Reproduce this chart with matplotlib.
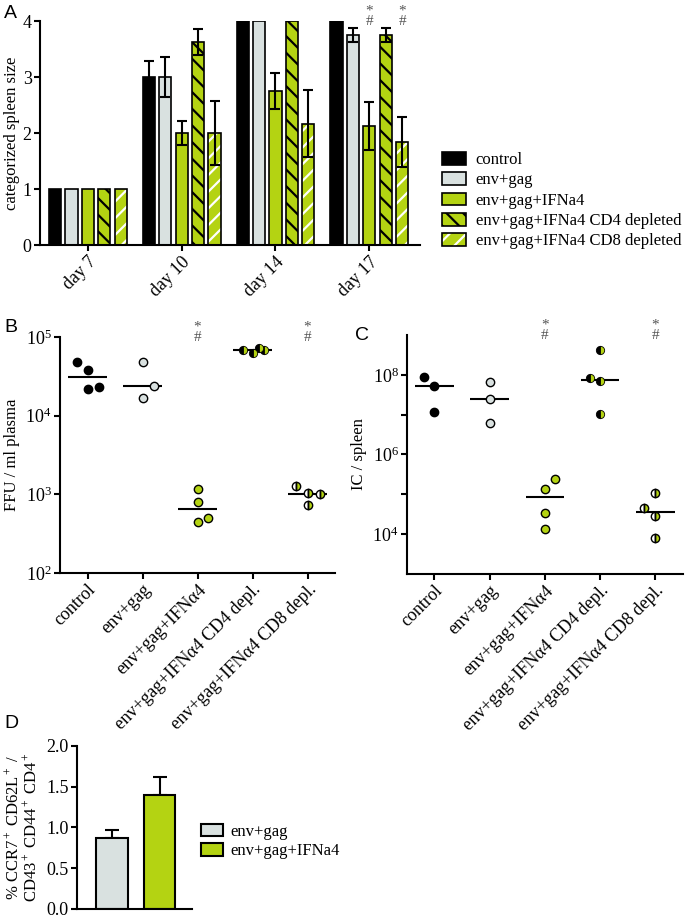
import matplotlib
matplotlib.use('Agg')
import matplotlib.pyplot as plt
import numpy as np
from matplotlib.patches import Patch
from matplotlib.legend_handler import HandlerTuple

plt.rcParams['font.family'] = ['Liberation Serif', 'DejaVu Serif']
plt.rcParams['mathtext.fontset'] = 'custom'
plt.rcParams['mathtext.rm'] = 'Liberation Serif'
plt.rcParams['mathtext.it'] = 'Liberation Serif:italic'
plt.rcParams['hatch.linewidth'] = 1.6
plt.rcParams['axes.linewidth'] = 1.5

BLACK = '#000000'
GREY = '#d9e1e0'
GREEN = '#b4d312'
MARK = '#555555'

# --- panel A: categorized spleen size
days = ['day 7', 'day 10', 'day 14', 'day 17']
groups_a = ['control', 'env+gag', 'env+gag+IFNa4',
            'env+gag+IFNa4 CD4 depleted', 'env+gag+IFNa4 CD8 depleted']
spleen_control = [1, 3.0, 4.0, 4.0]
spleen_envgag = [1, 3.0, 4.0, 3.75]
spleen_ifn = [1, 2.0, 2.75, 2.13]
spleen_cd4 = [1, 3.63, 4.0, 3.75]
spleen_cd8 = [1, 2.0, 2.17, 1.84]
err_control = [0, 0.28, 0, 0]
err_envgag = [0, 0.35, 0, 0.13]
err_ifn = [0, 0.21, 0.32, 0.43]
err_cd4 = [0, 0.23, 0, 0.13]
err_cd8 = [0, 0.58, 0.60, 0.44]
sig_a = [(3, 2), (3, 4)]  # (day index, group index)

# --- panel B/C categories
cats = ['control', 'env+gag', 'env+gag+IFN\u03b14',
        'env+gag+IFN\u03b14 CD4 depl.', 'env+gag+IFN\u03b14 CD8 depl.']

# panel B: FFU / ml plasma
ffu_control = [4.8e4, 3.8e4, 2.2e4, 2.3e4]
ffu_envgag = [4.8e4, 1.7e4, 2.35e4]
ffu_ifn = [1.16e3, 8.1e2, 4.4e2, 5.0e2]
ffu_cd4 = [6.8e4, 6.3e4, 7.2e4, 6.8e4]
ffu_cd8 = [1.26e3, 1.04e3, 1.0e3, 7.4e2]
ffu_median = [3.1e4, 2.35e4, 6.55e2, 6.8e4, 1.0e3]
jit_b = [[-0.2, 0, 0, 0.2], [0, 0, 0.2], [0, 0, 0, 0.19],
         [-0.18, 0, 0.12, 0.21], [-0.21, 0, 0.22, 0]]

# panel C: IC / spleen
ic_control = [8.7e7, 5.1e7, 1.18e7]
ic_envgag = [6.5e7, 2.45e7, 6.0e6]
ic_ifn = [2.45e5, 1.37e5, 3.4e4, 1.35e4]
ic_cd4 = [4.3e8, 8.2e7, 6.8e7, 1.03e7]
ic_cd8 = [1.07e5, 4.6e4, 2.8e4, 8.0e3]
ic_median = [5.1e7, 2.45e7, 8.5e4, 7.5e7, 3.7e4]
jit_c = [[-0.19, 0, 0], [0, 0, 0], [0.19, 0, 0, 0],
         [0, -0.19, 0, 0], [0, -0.21, 0, 0]]
sig_bc = [2, 4]

# --- panel D
groups_d = ['env+gag', 'env+gag+IFNa4']
ccr7_mean = [0.87, 1.40]
ccr7_err = [0.10, 0.22]

fig = plt.figure(figsize=(6.85, 9.19), dpi=100)


def style(ax):
    for s in ['top', 'right']:
        ax.spines[s].set_visible(False)
    ax.tick_params(width=1.5, length=4, labelsize=13, direction='out', pad=2)


def sig(ax, xx):
    # star above hash, one text block
    ax.annotate('*\n#', (xx, 1), xycoords=('data', 'axes fraction'),
                xytext=(0, -5), textcoords='offset points', ha='center',
                va='bottom', color=MARK, fontsize=11, linespacing=0.78)


# ================= A
axA = fig.add_axes([0.0584, 0.7334, 0.5547, 0.2437])
style(axA)
x = np.arange(len(days))
slot = 0.175
bw = 0.13
means = [spleen_control, spleen_envgag, spleen_ifn, spleen_cd4, spleen_cd8]
errs = [err_control, err_envgag, err_ifn, err_cd4, err_cd8]
for i in range(5):
    xi = x + (i - 2) * slot
    if i == 0:
        axA.bar(xi, means[i], bw, color=BLACK, edgecolor=BLACK, lw=1.2, zorder=2)
    elif i == 1:
        axA.bar(xi, means[i], bw, color=GREY, edgecolor=BLACK, lw=1.2, zorder=2)
    elif i == 2:
        axA.bar(xi, means[i], bw, color=GREEN, edgecolor=BLACK, lw=1.2, zorder=2)
    elif i == 3:
        axA.bar(xi, means[i], bw, color=GREEN, edgecolor=BLACK, lw=1.2,
                hatch='\\\\', zorder=2)
    else:
        axA.bar(xi, means[i], bw, color=GREEN, edgecolor='white', lw=0,
                hatch='//', zorder=2)
        axA.bar(xi, means[i], bw, fill=False, edgecolor=BLACK, lw=1.2, zorder=3)
    e = np.array(errs[i])
    m = e > 0
    axA.errorbar(xi[m], np.array(means[i])[m], yerr=e[m], fmt='none',
                 ecolor=BLACK, elinewidth=1.5, capsize=3.5, capthick=1.5, zorder=4)

axA.set_xlim(-0.51, 3.54)
axA.set_ylim(0, 4)
axA.set_yticks([0, 1, 2, 3, 4])
axA.set_xticks(x)
axA.set_xticklabels(days, rotation=45, ha='right', rotation_mode='anchor')
axA.set_ylabel('categorized spleen size', fontsize=12, labelpad=2)
for d, g in sig_a:
    sig(axA, d + (g - 2) * slot)

h_cd8 = (Patch(facecolor=GREEN, edgecolor='white', hatch='//', lw=0),
         Patch(fill=False, edgecolor=BLACK, lw=1.2))
handles = [Patch(facecolor=BLACK, edgecolor=BLACK, lw=1.2),
           Patch(facecolor=GREY, edgecolor=BLACK, lw=1.2),
           Patch(facecolor=GREEN, edgecolor=BLACK, lw=1.2),
           Patch(facecolor=GREEN, edgecolor=BLACK, lw=1.2, hatch='\\\\'),
           h_cd8]
fig.legend(handles, groups_a, loc='upper left', bbox_to_anchor=(0.636, 0.842),
           frameon=False, fontsize=12, handlelength=1.4, handleheight=0.8,
           handletextpad=0.6, labelspacing=0.25, borderaxespad=0,
           handler_map={tuple: HandlerTuple(ndivide=1)})


# ================= B / C
def dots(ax, data, jit, median, ylim, yticks, ylabels, ylabel):
    style(ax)
    ax.set_yscale('log')
    kw = dict(ls='none', marker='o', ms=6, mec=BLACK, mew=1.0, zorder=3)
    for i, vals in enumerate(data):
        xs = i + np.array(jit[i])
        if i == 0:
            ax.plot(xs, vals, mfc=BLACK, **kw)
        elif i == 1:
            ax.plot(xs, vals, mfc=GREY, **kw)
        elif i == 2:
            ax.plot(xs, vals, mfc=GREEN, **kw)
        elif i == 3:
            ax.plot(xs, vals, mfc=BLACK, mfcalt=GREEN, fillstyle='left',
                    **dict(kw, mew=0.6))
        else:
            ax.plot(xs, vals, mfc='white', mfcalt=GREEN, fillstyle='left', **kw)
            ax.plot(xs, vals, ls='none', marker='|', ms=6, mec=BLACK, mew=1.0,
                    zorder=4)
    ax.hlines(median, np.arange(5) - 0.35, np.arange(5) + 0.35, color=BLACK,
              lw=1.5, zorder=2)
    ax.set_xlim(-0.5, 4.5)
    ax.set_ylim(*ylim)
    ax.minorticks_off()
    ax.set_yticks(yticks)
    ax.set_yticklabels(ylabels)
    ax.set_xticks(np.arange(5))
    ax.set_xticklabels(cats, rotation=45, ha='right', rotation_mode='anchor')
    ax.set_ylabel(ylabel, fontsize=12)
    for g in sig_bc:
        sig(ax, g)


axB = fig.add_axes([0.0876, 0.3765, 0.4015, 0.2568])
dots(axB, [ffu_control, ffu_envgag, ffu_ifn, ffu_cd4, ffu_cd8], jit_b, ffu_median,
     (1e2, 1e5), [1e2, 1e3, 1e4, 1e5],
     ['$10^2$', '$10^3$', '$10^4$', '$10^5$'], 'FFU / ml plasma')

axC = fig.add_axes([0.594, 0.3754, 0.403, 0.2601])
dots(axC, [ic_control, ic_envgag, ic_ifn, ic_cd4, ic_cd8], jit_c, ic_median,
     (1e3, 1e9), [1e4, 1e5, 1e6, 1e7, 1e8],
     ['$10^4$', '', '$10^6$', '', '$10^8$'], 'IC / spleen')

# ================= D
axD = fig.add_axes([0.1124, 0.0109, 0.1679, 0.1774])
style(axD)
xd = np.arange(len(groups_d))
axD.bar(xd, ccr7_mean, 0.65, color=[GREY, GREEN], edgecolor=BLACK, lw=1.5, zorder=2)
axD.errorbar(xd, ccr7_mean, yerr=[[0, 0], ccr7_err], fmt='none', ecolor=BLACK,
             elinewidth=1.5, capsize=5, capthick=1.5, zorder=1)
axD.set_xlim(-0.73, 1.67)
axD.set_ylim(0, 2)
axD.set_yticks([0, 0.5, 1.0, 1.5, 2.0])
axD.set_yticklabels(['0.0', '0.5', '1.0', '1.5', '2.0'])
axD.set_xticks([])
axD.set_ylabel('% CCR7$^+$ CD62L$^+$ /\nCD43$^+$ CD44$^+$ CD4$^+$', fontsize=12,
               linespacing=1.05, labelpad=4)
fig.legend([Patch(facecolor=GREY, edgecolor=BLACK, lw=1.5),
            Patch(facecolor=GREEN, edgecolor=BLACK, lw=1.5)], groups_d,
           loc='upper left', bbox_to_anchor=(0.284, 0.111), frameon=False,
           fontsize=12, handlelength=1.3, handleheight=0.8, handletextpad=0.45,
           labelspacing=0.18, borderaxespad=0)

# panel letters
for lab, (px, py) in zip('ABCD', [(4, 5), (4, 319), (355, 327), (4, 715)]):
    fig.text(px / 685, 1 - py / 919, lab, fontsize=14, family='Liberation Sans',
             va='top', ha='left')

fig.savefig('out.png', dpi=100)
